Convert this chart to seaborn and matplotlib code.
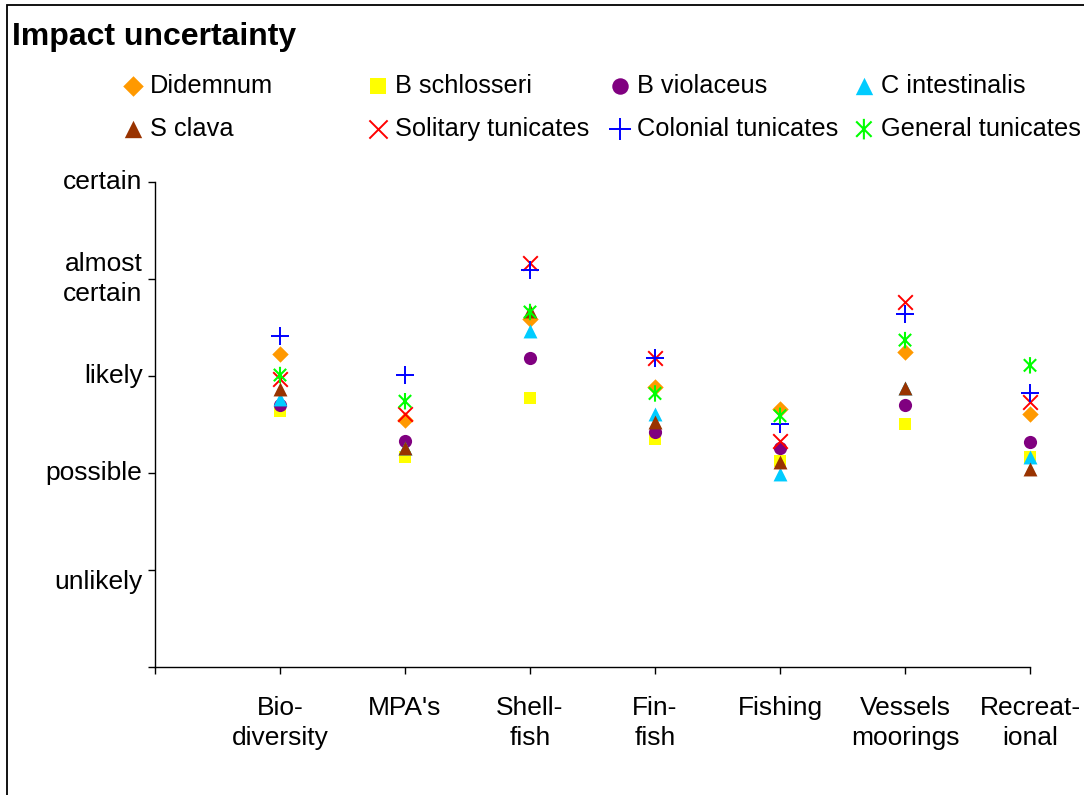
import numpy as np
import pandas as pd
import seaborn as sns
import matplotlib.pyplot as plt
from matplotlib.path import Path
from matplotlib.patches import Rectangle

# categories along the x axis
categories = ["Bio-\ndiversity", "MPA's", "Shell-\nfish", "Fin-\nfish",
              "Fishing", "Vessels\nmoorings", "Recreat-\nional"]
y_labels = ["", "unlikely", "possible", "likely", "almost\ncertain", "certain"]

# uncertainty scores (0 = none ... 5 = certain)
didemnum = [3.23, 2.55, 3.59, 2.89, 2.66, 3.25, 2.61]
b_schlosseri = [2.64, 2.17, 2.77, 2.35, 2.12, 2.51, 2.17]
b_violaceus = [2.70, 2.33, 3.19, 2.42, 2.26, 2.70, 2.32]
c_intestinalis = [2.76, 2.26, 3.46, 2.61, 1.99, 2.88, 2.16]
s_clava = [2.87, 2.26, 3.67, 2.53, 2.11, 2.88, 2.04]
solitary = [2.97, 2.61, 4.17, 3.19, 2.33, 3.76, 2.73]
colonial = [3.41, 3.01, 4.09, 3.19, 2.51, 3.64, 2.82]
general = [3.01, 2.74, 3.66, 2.82, 2.59, 3.37, 3.11]

# Excel style asterisk: vertical bar + X
asterisk = Path([(0, -1), (0, 1), (-0.75, -0.75), (0.75, 0.75), (-0.75, 0.75), (0.75, -0.75)],
                [Path.MOVETO, Path.LINETO, Path.MOVETO, Path.LINETO, Path.MOVETO, Path.LINETO])

series = [
    ("Didemnum", didemnum, "D", "#FF9900", 70),
    ("B schlosseri", b_schlosseri, "s", "#FFFF00", 80),
    ("B violaceus", b_violaceus, "o", "#800080", 90),
    ("C intestinalis", c_intestinalis, "^", "#00CCFF", 100),
    ("S clava", s_clava, "^", "#993300", 100),
    ("Solitary tunicates", solitary, "x", "#FF0000", 110),
    ("Colonial tunicates", colonial, "+", "#0000FF", 150),
    ("General tunicates", general, asterisk, "#00FF00", 140),
]

sns.set_style("white")
plt.rcParams['font.family'] = ['Liberation Sans', 'DejaVu Sans']
plt.rcParams['text.color'] = 'black'
plt.rcParams['xtick.color'] = 'black'
plt.rcParams['ytick.color'] = 'black'

fig = plt.figure(figsize=(10.84, 7.95), dpi=100)
ax = fig.add_axes([155 / 1084, 1 - 667 / 795, (1030 - 155) / 1084, (667 - 182) / 795])

xpos = np.arange(1, len(categories) + 1)
for name, vals, m, c, s in series:
    df = pd.DataFrame({"x": xpos, "y": vals})
    if m in ("x", "+"):
        sns.scatterplot(data=df, x="x", y="y", marker=m, color=c, s=s,
                        linewidth=1.4, label=name, ax=ax, clip_on=False)
    elif m is asterisk:
        sns.scatterplot(data=df, x="x", y="y", marker=m, facecolor="none",
                        edgecolor=c, s=s, linewidth=1.5, label=name, ax=ax,
                        clip_on=False)
    else:
        sns.scatterplot(data=df, x="x", y="y", marker=m, color=c, s=s,
                        linewidth=0, label=name, ax=ax, clip_on=False)

handles, labels = ax.get_legend_handles_labels()
if ax.get_legend() is not None:
    ax.get_legend().remove()

ax.set_xlim(0, len(categories))
ax.set_ylim(0, 5)
ax.set_xticks(np.arange(0, len(categories) + 1))
ax.set_xticklabels([""] + categories, fontsize=19, linespacing=1.3)
ax.set_yticks(np.arange(0, 6))
ax.set_yticklabels(y_labels, fontsize=19, linespacing=1.3)
for lab, va in zip(ax.get_yticklabels(), ["center", "top", "center", "center", "center", "center"]):
    lab.set_va(va)
ax.set_xlabel("")
ax.set_ylabel("")
ax.tick_params(axis="x", direction="out", length=5, width=1, pad=16, color="black", bottom=True)
ax.tick_params(axis="y", direction="out", length=5, width=1, pad=4, color="black", left=True)
sns.despine(ax=ax)
for sp in ["left", "bottom"]:
    ax.spines[sp].set_color("black")
    ax.spines[sp].set_linewidth(1)

# legend: 4 columns of two entries each
col_x = [125, 370, 612, 856]
for i, x0 in enumerate(col_x):
    fig.legend([handles[i], handles[i + 4]], [labels[i], labels[i + 4]],
               loc="upper left", bbox_to_anchor=(x0 / 1084, 1 - 74 / 795),
               frameon=False, fontsize=18.3, handlelength=0.62, handletextpad=0.36,
               labelspacing=0.74, borderpad=0, borderaxespad=0, markerscale=1.25)

fig.text(12 / 1084, 1 - 37 / 795, "Impact uncertainty", fontsize=23,
         fontweight="bold", va="center", ha="left")

fig.patches.append(Rectangle((7 / 1084, -0.05), 1.2, 1 - 5 / 795 + 0.05,
                             transform=fig.transFigure, fill=False,
                             edgecolor="black", linewidth=1.3))

fig.savefig("out.png", dpi=100)
